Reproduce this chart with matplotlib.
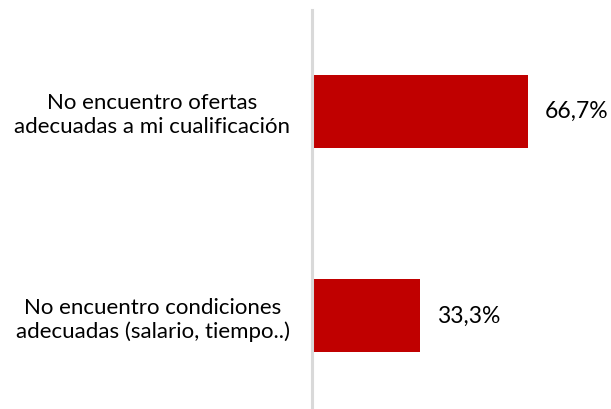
import matplotlib
matplotlib.use("Agg")
import matplotlib.pyplot as plt

categories = [
    "No encuentro ofertas\nadecuadas a mi cualificación",
    "No encuentro condiciones\nadecuadas (salario, tiempo..)",
]
values = [66.7, 33.3]
value_labels = ["66,7%", "33,3%"]

plt.rcParams["font.family"] = ["Lato", "DejaVu Sans"]

W, H = 611, 409
fig = plt.figure(figsize=(W / 100, H / 100), dpi=100)
# axes: left edge at the grey axis line, top a bit below the figure top
ax = fig.add_axes([312 / W, 0, 1 - 312 / W, 1 - 10 / H])

ypos = list(range(len(categories)))
ax.barh(ypos, values, height=0.357, color="#C00000")

ax.set_ylim(1.455, -0.496)
ax.set_xlim(0, 92.3)

ax.set_yticks(ypos)
ax.set_yticklabels(categories, fontsize=16, multialignment="center",
                   linespacing=1.25)
ax.tick_params(axis="y", length=0, pad=16)
ax.set_xticks([])

for y, v, lab in zip(ypos, values, value_labels):
    ax.annotate(lab, (v, y), xytext=(12, 0), textcoords="offset points",
                va="center", ha="left", fontsize=16.5)

for s in ["top", "right", "bottom"]:
    ax.spines[s].set_visible(False)
ax.spines["left"].set_color("#D9D9D9")
ax.spines["left"].set_linewidth(2.2)

fig.savefig("out.png", dpi=100)
